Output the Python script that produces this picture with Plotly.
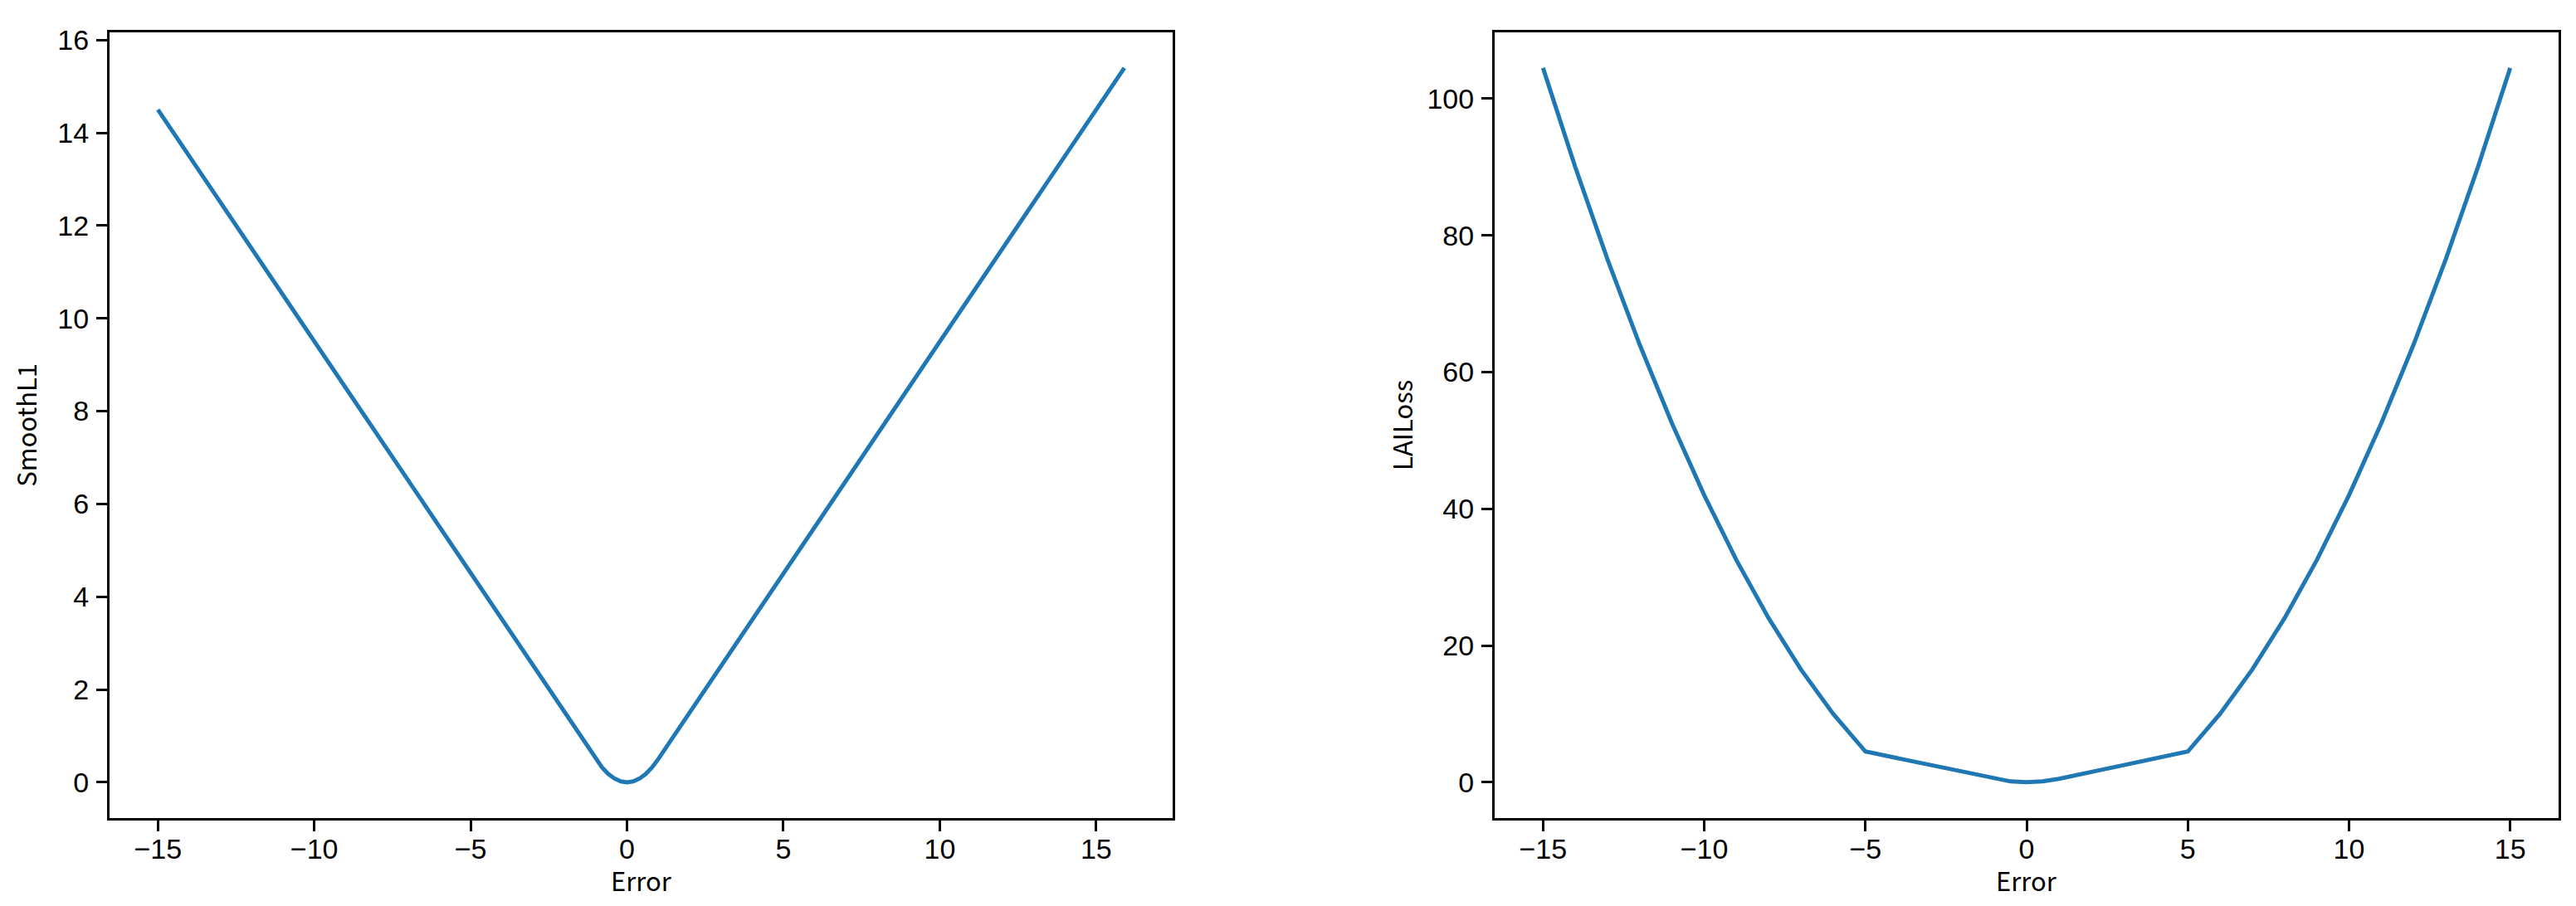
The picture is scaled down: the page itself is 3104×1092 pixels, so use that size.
import plotly.graph_objects as go

# Left panel: SmoothL1 vs Error
smooth_x = [-15, -10, -5, -2, -1, -0.8, -0.6, -0.4, -0.2, 0, 0.2, 0.4, 0.6, 0.8, 1, 2, 5, 10, 15.9]
smooth_y = [14.5, 9.5, 4.5, 1.5, 0.5, 0.32, 0.18, 0.08, 0.02, 0, 0.02, 0.08, 0.18, 0.32, 0.5, 1.5, 4.5, 9.5, 15.4]

# Right panel: LAILoss vs Error
lai_x = [-15, -14, -13, -12, -11, -10, -9, -8, -7, -6, -5, -4, -3, -2, -1, -0.5, 0,
         0.5, 1, 2, 3, 4, 5, 6, 7, 8, 9, 10, 11, 12, 13, 14, 15]
lai_y = [104.5, 90, 76.5, 64, 52.5, 42, 32.5, 24, 16.5, 10, 4.5, 3.5, 2.5, 1.5, 0.5, 0.125, 0,
         0.125, 0.5, 1.5, 2.5, 3.5, 4.5, 10, 16.5, 24, 32.5, 42, 52.5, 64, 76.5, 90, 104.5]

x_ticks = [-15, -10, -5, 0, 5, 10, 15]
left_y_ticks = [0, 2, 4, 6, 8, 10, 12, 14, 16]
right_y_ticks = [0, 20, 40, 60, 80, 100]

LINE = "#1f77b4"
TICKFONT = dict(family="Liberation Sans, Arial, sans-serif", size=34, color="black")
TITLEFONT = dict(family="Noto Sans CJK SC, sans-serif", size=31, color="black")

fig = go.Figure()
fig.add_trace(go.Scatter(x=smooth_x, y=smooth_y, mode="lines",
                         line=dict(color=LINE, width=5), xaxis="x", yaxis="y",
                         showlegend=False))
fig.add_trace(go.Scatter(x=lai_x, y=lai_y, mode="lines",
                         line=dict(color=LINE, width=5), xaxis="x2", yaxis="y2",
                         showlegend=False))

# page has an 8px body margin; figure pixel = page pixel - 8
OFF = 8
W, H = 3104 - 2 * OFF, 1092 - 2 * OFF
def px(v):
    return (v - OFF) / W
def py(v):
    return 1 - (v - OFF) / H

ydom = [py(985), py(29)]
xdom1 = [px(132), px(1413)]
xdom2 = [px(1801), px(3083)]

axis_common = dict(showline=True, mirror=True, linecolor="black", linewidth=3,
                   ticks="outside", ticklen=13, tickwidth=2.5, tickcolor="black",
                   showgrid=False, zeroline=False, tickfont=TICKFONT)

fig.update_layout(
    width=W, height=H,
    margin=dict(l=0, r=0, t=0, b=0),
    paper_bgcolor="white", plot_bgcolor="white",
    xaxis=dict(domain=xdom1, range=[-16.545, 17.445], tickvals=x_ticks,
               anchor="y", ticklabelstandoff=-8, **axis_common),
    yaxis=dict(domain=ydom, range=[-0.77, 16.17], tickvals=left_y_ticks, anchor="x",
               ticklabelstandoff=2,
               title=dict(text="SmoothL1", font=TITLEFONT, standoff=24),
               **axis_common),
    xaxis2=dict(domain=xdom2, range=[-16.5, 16.5], tickvals=x_ticks,
                anchor="y2", ticklabelstandoff=-8, **axis_common),
    yaxis2=dict(domain=ydom, range=[-5.225, 109.725], tickvals=right_y_ticks, anchor="x2",
                ticklabelstandoff=2,
                title=dict(text="LAILoss", font=TITLEFONT, standoff=8),
                **axis_common),
)

for dom in (xdom1, xdom2):
    fig.add_annotation(text="Error", xref="paper", yref="paper",
                       x=(dom[0] + dom[1]) / 2, y=py(1060),
                       xanchor="center", yanchor="middle", showarrow=False,
                       borderpad=0, font=TITLEFONT)

fig.write_html("out.html")
